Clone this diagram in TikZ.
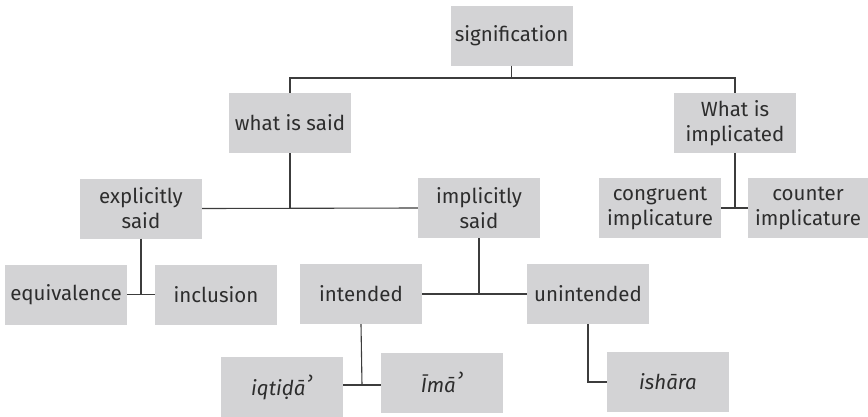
\documentclass[tikz,border=0pt]{standalone}
\usepackage{fontspec}
\setmainfont{Fira Sans}
\newfontfamily\halfring{DejaVu Sans}
\newcommand{\hamza}{{\halfring\fontsize{27}{25}\selectfont\kern-1pt ʾ}}
\begin{document}
\definecolor{boxgray}{RGB}{211,211,213}
\definecolor{inkgray}{RGB}{45,45,45}
\definecolor{linegray}{RGB}{60,60,60}
\begin{tikzpicture}[x=1pt,y=-1pt,
  box/.style={rectangle,fill=boxgray,minimum width=122pt,minimum height=60pt,
    inner sep=2pt,align=center,text=inkgray,font=\fontsize{20.5}{25}\selectfont},
  link/.style={draw=linegray,line width=1.1pt}]
\useasboundingbox (0,0) rectangle (868,416);
% boxes
\node[box] (sig)      at (511.5,35.5) {signification};
\node[box] (said)     at (290,123)    {what is said};
\node[box] (impl)     at (735,123)    {What is\\implicated};
\node[box] (expl)     at (141,208.5)  {explicitly\\said};
\node[box] (isaid)    at (479,208)    {implicitly\\said};
\node[box] (cong)     at (660,208)    {congruent\\implicature};
\node[box,minimum width=120pt] (counter) at (808,208) {counter\\implicature};
\node[box] (equiv)    at (66,294.5)   {equivalence};
\node[box] (incl)     at (216,294.5)  {inclusion};
\node[box] (intd)     at (361,294)    {intended};
\node[box] (unintd)   at (588,294)    {unintended};
\node[box] (iqt)      at (282,387)    {\itshape iqtiḍā\hamza};
\node[box] (ima)      at (442,382.5)  {\itshape Īmā\hamza};
\node[box] (ish)      at (668,382)    {\itshape ishāra};
% junction points
\coordinate (jtop) at (511.5,78);
\coordinate (jint) at (362,385);
% connectors
\draw[link] (sig.south) -- (jtop);
\draw[link] (said.north) |- (jtop) -| (impl.north);
\draw[link] (said.south) -- (said.south |- expl.east);
\draw[link] (expl.east) -- (isaid.west);
\draw[link] (impl.south) -- (impl.south |- cong.east);
\draw[link] (cong.east) -- (counter.west);
\draw[link] (expl.south) -- (expl.south |- equiv.east);
\draw[link] (equiv.east) -- (incl.west);
\draw[link] (isaid.south) -- (isaid.south |- intd.east);
\draw[link] (intd.east) -- (unintd.west);
\draw[link] (intd.south) -- (jint);
\draw[link] (iqt.east |- jint) -- (ima.west |- jint);
\draw[link] (unintd.south) |- (ish.west);
\end{tikzpicture}
\end{document}
